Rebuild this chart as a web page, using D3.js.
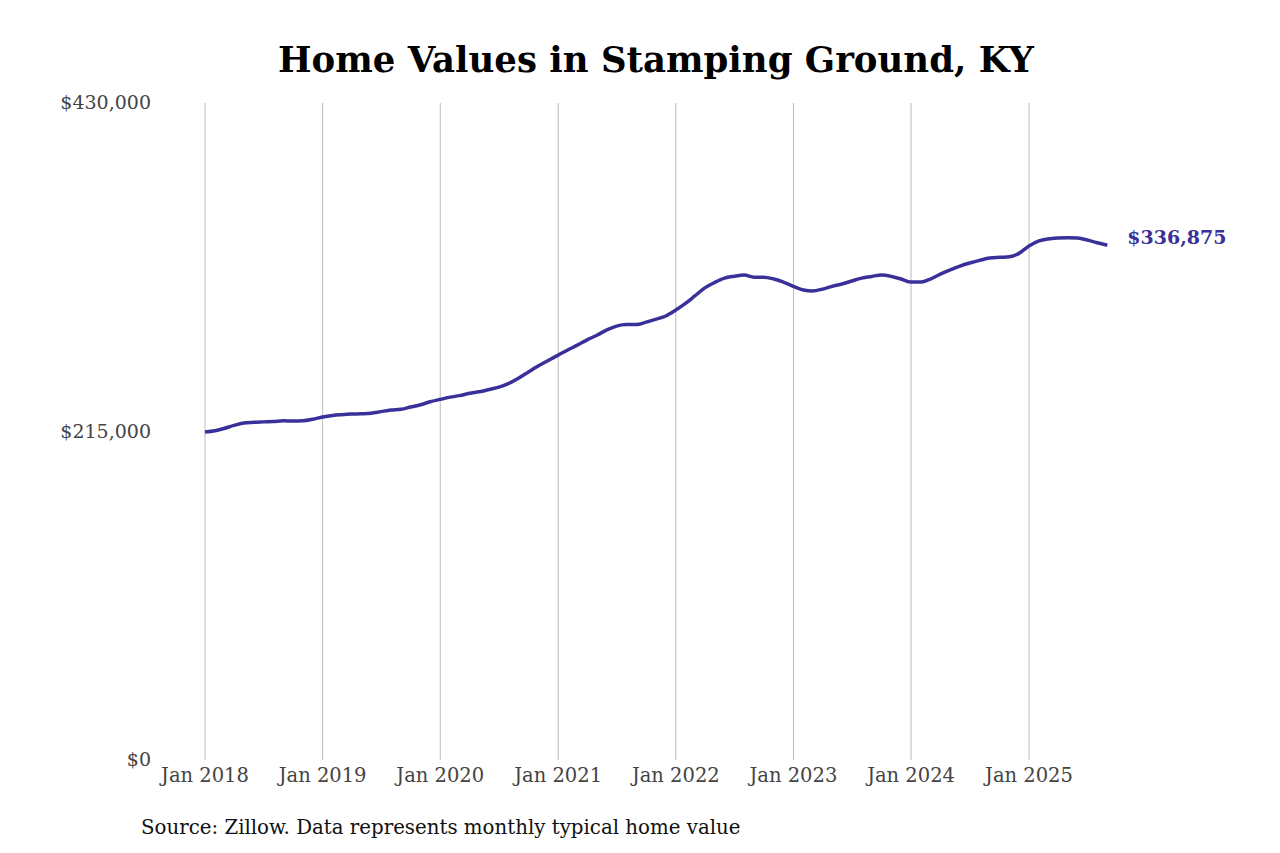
<!DOCTYPE html>
<html><head><meta charset="utf-8">
<script src="https://cdn.jsdelivr.net/npm/d3@7"></script>
<style>body{margin:0;background:#fff}svg{display:block}</style>
</head><body>
<svg id="c" width="1280" height="853"></svg>
<script>
const startYear = 2018, startMonth = 0;
const values = [
214.7,215.5,217,219,220.5,221,221.3,221.6,222,221.8,222,223,
224.5,225.5,226,226.4,226.6,227,228,229,229.5,231,232.5,234.5,
236,237.5,238.5,240,241,242.5,244,246.5,250,254,258,261.5,
265,268.5,271.5,275,278,281.5,284,285,285,286.6,288.5,290.6,
294.5,299,303.7,309,312.5,315.4,316.6,317.4,316,316,314.8,312.8,
310,307.6,307,308.2,310,311.5,313.5,315.4,316.5,317.4,316.5,314.8,
312.8,312.8,314.8,318,320.7,323.3,325.3,327,328.5,329,329.3,331.6,
336.4,339.7,341,341.6,341.8,341.6,340.3,338.5,336.875].map(v=>v*1000);
const yTicks = [0,215000,430000];
const xTickYears = [2018,2019,2020,2021,2022,2023,2024,2025];
const title = "Home Values in Stamping Ground, KY";
const source = "Source: Zillow. Data represents monthly typical home value";

const data = values.map((v,i)=>({d:new Date(startYear,startMonth+i,1),v}));
const svg = d3.select("#c");
const font = "'DejaVu Serif', serif";
const x = d3.scaleTime().domain([new Date(2018,0,1),new Date(2025,0,1)]).range([205,1029]);
const y = d3.scaleLinear().domain([0,430000]).range([760,103]);
const col = "#3a309a";

svg.append("text").attr("x",656).attr("y",72).attr("text-anchor","middle")
  .attr("font-family",font).attr("font-weight","bold").attr("font-size",35.5).text(title);

svg.selectAll(".g").data(xTickYears).enter().append("line")
  .attr("x1",d=>x(new Date(d,0,1))).attr("x2",d=>x(new Date(d,0,1)))
  .attr("y1",103).attr("y2",760).attr("stroke","#bbb").attr("stroke-width",1);
svg.selectAll(".xt").data(xTickYears).enter().append("text")
  .attr("x",d=>x(new Date(d,0,1))).attr("y",782).attr("text-anchor","middle")
  .attr("font-family",font).attr("font-size",19.5).attr("fill","#444").text(d=>"Jan "+d);
svg.selectAll(".yt").data(yTicks).enter().append("text")
  .attr("x",151).attr("y",d=>y(d)+6).attr("text-anchor","end")
  .attr("font-family",font).attr("font-size",19).attr("fill","#444")
  .text(d=>"$"+d3.format(",")(d));

svg.append("path").datum(data).attr("fill","none").attr("stroke",col).attr("stroke-width",3.5)
  .attr("d",d3.line().x(d=>x(d.d)).y(d=>y(d.v)).curve(d3.curveMonotoneX));
const last = data[data.length-1];
svg.append("text").attr("x",x(last.d)+20).attr("y",y(last.v)-1)
  .attr("font-family",font).attr("font-weight","bold").attr("font-size",19).attr("fill",col)
  .text("$"+d3.format(",")(last.v));
svg.append("text").attr("x",141).attr("y",834).attr("font-family",font).attr("font-size",19.8)
  .attr("fill","#111").text(source);
</script></body></html>
